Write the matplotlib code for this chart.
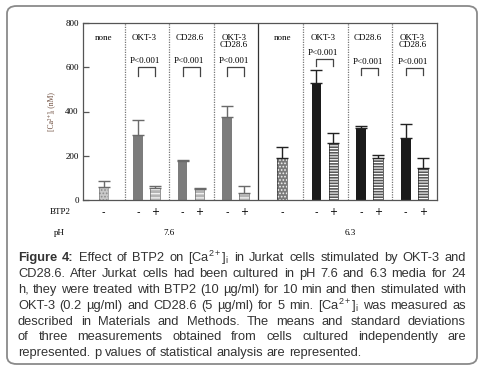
import numpy as np
import matplotlib
matplotlib.use("Agg")
import matplotlib.pyplot as plt
from matplotlib.patches import FancyBboxPatch
from matplotlib.transforms import blended_transform_factory

plt.rcParams['mathtext.fontset'] = 'custom'
plt.rcParams['mathtext.rm'] = 'Liberation Sans'
plt.rcParams['mathtext.it'] = 'Liberation Sans'
plt.rcParams['hatch.linewidth'] = 0.8

# data
groups = ['none', 'OKT-3', 'CD28.6', 'OKT-3\nCD28.6']
ph_labels = ['7.6', '6.3']
# pH 7.6
ctrl_76 = [60, 295, 175, 375]     # BTP2 -
ctrl_76_sd = [28, 65, 5, 48]
btp_76 = [None, 55, 48, 30]      # BTP2 +
btp_76_sd = [None, 8, 5, 33]
# pH 6.3
ctrl_63 = [190, 530, 325, 280]
ctrl_63_sd = [48, 57, 10, 65]
btp_63 = [None, 258, 188, 143]
btp_63_sd = [None, 45, 14, 48]
pvals = ['P<0.001'] * 3

fig = plt.figure(figsize=(4.83, 3.76), dpi=100)
fig.patch.set_facecolor('white')

# rounded frame around figure + caption
frame = FancyBboxPatch((7 / 483, 1 - 364 / 376), 470 / 483, 358 / 376,
                       boxstyle='round,pad=0,rounding_size=0.02',
                       transform=fig.transFigure, fc='none', ec='#8a8a8a', lw=1.3)
fig.patches.append(frame)

ax = fig.add_axes([83 / 483, 1 - 200 / 376, 354 / 483, 177 / 376])
ax.set_xlim(0.07, 8)
ax.set_ylim(0, 800)
for s in ax.spines.values():
    s.set_color('#555555')
    s.set_linewidth(0.9)
ax.set_xticks([])
ax.set_yticks([0, 200, 400, 600, 800])
ax.tick_params(axis='y', direction='in', length=4, width=0.9, color='#555555',
               labelsize=6.5, pad=3)
for t in ax.get_yticklabels():
    t.set_family('Liberation Serif')
ax.set_ylabel('[Ca²⁺]ᵢ (nM)', family=['Liberation Serif', 'DejaVu Serif'],
              fontsize=5.5, color='#6b4a3a', labelpad=7)

# panel dividers
for xd in [1, 2, 3, 5, 6, 7]:
    ax.axvline(xd, color='#777777', lw=0.9, ls=(0, (1, 1)))
ax.axvline(4, color='#333333', lw=0.9)

bw = 0.22
serif = 'Liberation Serif'
panels = [(0, ctrl_76, ctrl_76_sd, btp_76, btp_76_sd, '76'),
          (4, ctrl_63, ctrl_63_sd, btp_63, btp_63_sd, '63')]
bracket_y = {'76': [(600, 560)] * 3, '63': [(638, 606), (597, 565), (597, 565)]}
ptext_y = {'76': [628] * 3, '63': [665, 624, 624]}

trans = blended_transform_factory(ax.transData, ax.transAxes)

for off, ctrl, csd, btp, bsd, key in panels:
    dark = key == '63'
    c_minus = '#1b1b1b' if dark else '#7c7c7c'
    c_plus = '#585858' if dark else '#b4b4b4'
    c_none = '#7a7a7a' if dark else '#c9c9c9'
    c_err = '#222222' if dark else '#6a6a6a'
    for i in range(4):
        lab_y = 730
        if i == 0:
            x0 = off + 0.53
            ax.bar(x0, ctrl[0], bw, color=c_none, hatch='.....',
                   edgecolor='#f2f2f2' if dark else '#8c8c8c', lw=0)
            ax.bar(x0, ctrl[0], bw, fill=False, edgecolor=c_err, lw=0.4)
            ax.errorbar(x0, ctrl[0], yerr=[[0], [csd[0]]], fmt='none', ecolor=c_err,
                        elinewidth=1.0, capsize=4, capthick=1.0)
            ax.text(x0, lab_y, groups[0], ha='center', va='center', family=serif, fontsize=6.5)
            ax.text(x0, -0.068, '-', transform=trans, ha='center', va='center', fontsize=7)
            continue
        xm = off + i + 0.3
        xp = off + i + 0.68
        ax.bar(xm, ctrl[i], bw, color=c_minus, lw=0)
        ax.errorbar(xm, ctrl[i], yerr=[[0], [csd[i]]], fmt='none', ecolor=c_err,
                    elinewidth=1.0, capsize=4, capthick=1.0)
        ax.bar(xp, btp[i], bw, color=c_plus, hatch='------' if dark else '----',
               edgecolor='white', lw=0)
        ax.bar(xp, btp[i], bw, fill=False, edgecolor=c_err, lw=0.5)
        ax.errorbar(xp, btp[i], yerr=[[0], [bsd[i]]], fmt='none', ecolor=c_err,
                    elinewidth=1.0, capsize=4, capthick=1.0)
        xc = off + i + 0.45
        if i == 3:
            ax.text(xc, 718, groups[i], ha='center', va='center', family=serif,
                    fontsize=6.5, linespacing=0.85)
        else:
            ax.text(xc, lab_y, groups[i], ha='center', va='center', family=serif, fontsize=6.5)
        ax.text(xc, ptext_y[key][i - 1], pvals[i - 1], ha='center', va='center',
                family=serif, fontsize=6.5)
        yt, yb = bracket_y[key][i - 1]
        ax.plot([xm, xm, xp, xp], [yb, yt, yt, yb], color='#444444', lw=0.9)
        ax.text(xm, -0.068, '-', transform=trans, ha='center', va='center', fontsize=7)
        ax.text(xp, -0.068, '+', transform=trans, ha='center', va='center', fontsize=7)

ax.text(-0.45, -0.068, 'BTP2', transform=trans, ha='center', va='center',
        family=serif, fontsize=6.5)
ax.text(-0.45, -0.186, 'pH', transform=trans, ha='center', va='center',
        family=serif, fontsize=6.5)
ax.text(2.0, -0.186, ph_labels[0], transform=trans, ha='center', va='center',
        family=serif, fontsize=6.5)
ax.text(6.05, -0.186, ph_labels[1], transform=trans, ha='center', va='center',
        family=serif, fontsize=6.5)

# caption, justified word by word
caption_lines = [
    'Figure 4: Effect of BTP2 on [Ca$^{2+}$]$_\\mathrm{i}$ in Jurkat cells stimulated by OKT-3 and',
    'CD28.6. After Jurkat cells had been cultured in pH 7.6 and 6.3 media for 24',
    'h, they were treated with BTP2 (10 µg/ml) for 10 min and then stimulated with',
    'OKT-3 (0.2 µg/ml) and CD28.6 (5 µg/ml) for 5 min. [Ca$^{2+}$]$_\\mathrm{i}$ was measured as',
    'described in Materials and Methods. The means and standard deviations',
    'of three measurements obtained from cells cultured independently are',
    'represented. p values of statistical analysis are represented.',
]
x_left, x_right = 18, 466
line_y = [258, 274, 290, 306, 322, 337, 353]
W, H = 483, 376
renderer = fig.canvas.get_renderer()
for li, line in enumerate(caption_lines):
    words = line.split(' ')
    objs = []
    for wi, w in enumerate(words):
        bold = li == 0 and wi < 2
        t = fig.text(0, 1 - line_y[li] / H, w, fontsize=9.3, family='Liberation Sans',
                     color='#333333', va='center', ha='left',
                     weight='bold' if bold else 'normal')
        objs.append(t)
    widths = [o.get_window_extent(renderer).width for o in objs]
    total = sum(widths)
    if li < len(caption_lines) - 1:
        gap = (x_right - x_left - total) / (len(objs) - 1)
    else:
        gap = 3.6
    x = x_left
    for o, w in zip(objs, widths):
        o.set_x(x / W)
        x += w + gap

fig.savefig('out.png', dpi=100)
